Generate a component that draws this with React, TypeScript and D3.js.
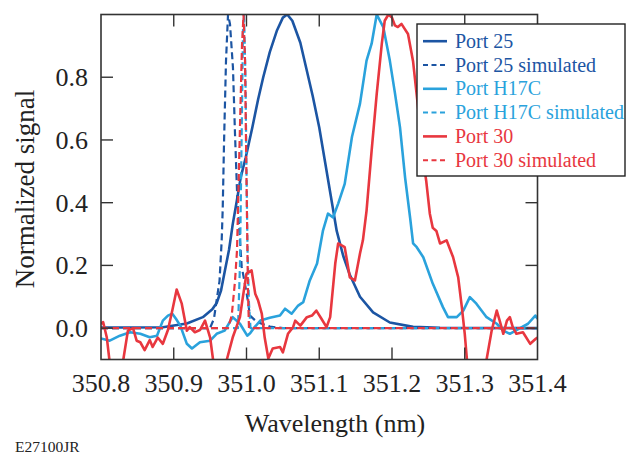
import React from "react";
import * as d3 from "d3";

const xTicks = [350.8, 350.9, 351.0, 351.1, 351.2, 351.3, 351.4];
const yTicks = [0.0, 0.2, 0.4, 0.6, 0.8];

const port25Wl = [350.8, 350.84, 350.885, 350.918, 350.94, 350.953, 350.959, 350.965, 350.97, 350.976, 350.981, 350.987, 350.992, 350.999, 351.008, 351.016, 351.023, 351.032, 351.042, 351.05, 351.056, 351.063, 351.074, 351.082, 351.091, 351.1, 351.108, 351.116, 351.124, 351.133, 351.142, 351.156, 351.174, 351.197, 351.229, 351.266, 351.4];
const port25Val = [0.002, 0.002, 0.003, 0.015, 0.035, 0.06, 0.08, 0.12, 0.18, 0.25, 0.33, 0.41, 0.48, 0.545, 0.64, 0.73, 0.8, 0.88, 0.95, 0.99, 1.0, 0.98, 0.91, 0.83, 0.74, 0.64, 0.53, 0.42, 0.31, 0.23, 0.17, 0.1, 0.05, 0.018, 0.004, 0.001, 0.0];

const port25SimWl = [350.8, 350.94, 350.9498, 350.9553, 350.959, 350.9629, 350.9659, 350.9673, 350.9691, 350.9718, 350.9746, 350.9773, 350.9814, 350.9842, 350.9874, 350.9934, 351.0003, 351.0048, 351.014, 351.0323, 351.05, 351.4];
const port25SimVal = [0, 0, 0.0, 0.03, 0.09, 0.15, 0.28, 0.38, 0.59, 0.85, 1.0, 0.97, 0.83, 0.62, 0.41, 0.196, 0.11, 0.04, 0.02, 0.005, 0, 0];

const h17cWl = [350.8, 350.812, 350.826, 350.84, 350.854, 350.867, 350.877, 350.885, 350.892, 350.898, 350.903, 350.909, 350.918, 350.925, 350.936, 350.95, 350.959, 350.97, 350.981, 350.991, 351.001, 351.005, 351.01, 351.019, 351.032, 351.046, 351.053, 351.062, 351.071, 351.078, 351.087, 351.097, 351.105, 351.112, 351.119, 351.126, 351.135, 351.145, 351.156, 351.165, 351.172, 351.179, 351.188, 351.197, 351.204, 351.211, 351.218, 351.225, 351.229, 351.234, 351.243, 351.256, 351.27, 351.277, 351.289, 351.298, 351.307, 351.316, 351.33, 351.344, 351.353, 351.362, 351.376, 351.387, 351.397, 351.4];
const h17cVal = [-0.033, -0.04, -0.024, -0.013, -0.018, -0.029, -0.024, 0.024, 0.04, 0.046, 0.03, 0.008, -0.05, -0.065, -0.045, -0.04, -0.018, -0.008, 0.035, 0.014, -0.024, -0.016, 0.0, 0.024, 0.033, 0.04, 0.062, 0.046, 0.072, 0.083, 0.152, 0.206, 0.31, 0.365, 0.353, 0.397, 0.46, 0.61, 0.716, 0.853, 0.907, 1.0, 0.96, 0.853, 0.75, 0.64, 0.48, 0.35, 0.27, 0.258, 0.226, 0.142, 0.067, 0.035, 0.035, 0.056, 0.099, 0.078, 0.035, 0.014, -0.008, -0.018, 0.0, 0.014, 0.04, 0.03];

const h17cSimWl = [350.8, 350.985, 350.9883, 350.991, 350.9924, 350.9938, 350.9952, 350.9966, 350.9986, 351.0, 351.0014, 351.0034, 351.0055, 351.4];
const h17cSimVal = [0, 0, 0.0, 0.2, 0.45, 0.7, 0.95, 1.0, 0.8, 0.5, 0.25, 0.08, 0.0, 0];

const port30Wl = [350.8, 350.803, 350.808, 350.812, 350.818, 350.826, 350.83, 350.837, 350.844, 350.849, 350.854, 350.86, 350.867, 350.871, 350.878, 350.885, 350.892, 350.898, 350.904, 350.911, 350.918, 350.922, 350.929, 350.936, 350.943, 350.95, 350.954, 350.958, 350.969, 350.973, 350.981, 350.991, 350.995, 351.0, 351.007, 351.012, 351.016, 351.021, 351.025, 351.03, 351.036, 351.046, 351.05, 351.057, 351.064, 351.067, 351.074, 351.083, 351.09, 351.096, 351.103, 351.11, 351.115, 351.122, 351.126, 351.135, 351.142, 351.149, 351.156, 351.16, 351.165, 351.172, 351.179, 351.186, 351.19, 351.195, 351.2, 351.204, 351.208, 351.213, 351.222, 351.229, 351.236, 351.241, 351.247, 351.252, 351.256, 351.261, 351.266, 351.275, 351.284, 351.291, 351.296, 351.3, 351.303, 351.307, 351.325, 351.33, 351.337, 351.344, 351.348, 351.353, 351.358, 351.362, 351.366, 351.371, 351.38, 351.39, 351.398, 351.4];
const port30Val = [0.014, 0.019, -0.03, -0.11, -0.2, -0.2, -0.11, -0.008, 0.0, -0.04, -0.045, -0.07, -0.038, -0.06, -0.03, -0.05, -0.006, 0.056, 0.123, 0.078, -0.008, 0.003, -0.013, -0.006, 0.024, -0.03, -0.1, -0.18, -0.18, -0.1, -0.03, 0.035, 0.099, 0.174, 0.184, 0.11, 0.088, 0.046, -0.03, -0.097, -0.065, -0.06, -0.077, -0.018, 0.003, 0.024, 0.008, 0.035, 0.04, 0.056, 0.03, 0.003, 0.035, 0.206, 0.27, 0.258, 0.162, 0.152, 0.238, 0.28, 0.374, 0.566, 0.747, 0.907, 0.98, 1.0, 0.99, 0.965, 0.96, 0.97, 0.938, 0.85, 0.7, 0.57, 0.47, 0.365, 0.32, 0.31, 0.27, 0.28, 0.226, 0.162, 0.067, -0.018, -0.1, -0.2, -0.2, -0.1, -0.008, 0.056, 0.024, -0.018, 0.024, 0.035, 0.003, -0.018, -0.013, -0.05, -0.033, -0.03];

const port30SimWl = [350.8, 350.97, 350.9746, 350.9797, 350.9842, 350.987, 350.989, 350.9911, 350.9938, 350.9959, 350.998, 350.9993, 351.0007, 351.002, 351.0034, 351.4];
const port30SimVal = [0, 0, 0, 0.04, 0.15, 0.25, 0.45, 0.65, 0.9, 1.0, 0.85, 0.6, 0.35, 0.12, 0.0, 0];

const DARK = "#1c55a3";
const LIGHT = "#2aa2dc";
const RED = "#e8373f";

const seriesList = [
  { name: "Port 25", wl: port25Wl, val: port25Val, color: DARK, dashed: false },
  { name: "Port 25 simulated", wl: port25SimWl, val: port25SimVal, color: DARK, dashed: true },
  { name: "Port H17C", wl: h17cWl, val: h17cVal, color: LIGHT, dashed: false },
  { name: "Port H17C simulated", wl: h17cSimWl, val: h17cSimVal, color: LIGHT, dashed: true },
  { name: "Port 30", wl: port30Wl, val: port30Val, color: RED, dashed: false },
  { name: "Port 30 simulated", wl: port30SimWl, val: port30SimVal, color: RED, dashed: true },
];

const W = 626;
const H = 455;
const L = 101, R = 537.5, T = 14.5, B = 359.5;
const FONT = '"Liberation Serif", "Times New Roman", Times, "DejaVu Serif", serif';
const AXIS = "#333";
const TS: React.CSSProperties = { fontFamily: FONT };

export default function App() {
  const x = d3.scaleLinear().domain([350.8, 351.4]).range([L, R]);
  const y = d3.scaleLinear().domain([-0.1, 1.0]).range([B, T]);
  const line = d3
    .line<[number, number]>()
    .x((d) => x(d[0]))
    .y((d) => y(d[1]));

  const legX = 417, legY = 24, legW = 208, legH = 152;

  return (
    <svg
      width={W}
      height={H}
      style={{ position: "absolute", left: 0, top: 0, background: "#fff", fontFamily: FONT }}
    >
      <defs>
        <clipPath id="plotclip">
          <rect x={L} y={T} width={R - L} height={B - T} />
        </clipPath>
      </defs>
      <rect x={0} y={0} width={W} height={H} fill="#fff" />
      <g clipPath="url(#plotclip)">
        {seriesList.map((s) => (
          <path
            key={s.name}
            d={line(s.wl.map((w, i) => [w, s.val[i]] as [number, number])) || ""}
            fill="none"
            stroke={s.color}
            strokeWidth={s.dashed ? 2.2 : 2.6}
            strokeDasharray={s.dashed ? "7,4" : undefined}
            strokeLinejoin="round"
          />
        ))}
      </g>
      <rect x={L} y={T} width={R - L} height={B - T} fill="none" stroke={AXIS} strokeWidth={1.6} />
      {xTicks.slice(1, -1).map((t) => (
        <g key={"xt" + t}>
          <line x1={x(t)} x2={x(t)} y1={B} y2={B - 12} stroke={AXIS} strokeWidth={1.4} />
          <line x1={x(t)} x2={x(t)} y1={T} y2={T + 12} stroke={AXIS} strokeWidth={1.4} />
        </g>
      ))}
      {yTicks.map((t) => (
        <g key={"yt" + t}>
          <line x1={L} x2={L + 12} y1={y(t)} y2={y(t)} stroke={AXIS} strokeWidth={1.4} />
          <line x1={R} x2={R - 12} y1={y(t)} y2={y(t)} stroke={AXIS} strokeWidth={1.4} />
        </g>
      ))}
      {xTicks.map((t) => (
        <text key={"xl" + t} x={x(t)} y={392} fontSize={26} textAnchor="middle" fill="#222" style={TS}>
          {t.toFixed(1)}
        </text>
      ))}
      {yTicks.map((t) => (
        <text key={"yl" + t} x={88} y={y(t) + 9} fontSize={26} textAnchor="end" fill="#222" style={TS}>
          {t.toFixed(1)}
        </text>
      ))}
      <text x={335} y={432} fontSize={26} textAnchor="middle" fill="#222" style={TS}>
        Wavelength (nm)
      </text>
      <text
        transform={`translate(34,189) rotate(-90)`}
        fontSize={27}
        textAnchor="middle"
        fill="#222"
        style={TS}
      >
        Normalized signal
      </text>
      <text x={15} y={452} fontSize={15.5} fill="#222" style={TS}>
        E27100JR
      </text>
      <rect x={legX} y={legY} width={legW} height={legH} fill="#fff" stroke="#222" strokeWidth={1.4} />
      {seriesList.map((s, i) => {
        const by = 47.7 + 23.8 * i;
        return (
          <g key={"lg" + s.name}>
            <line
              x1={423}
              x2={447}
              y1={by - 6.5}
              y2={by - 6.5}
              stroke={s.color}
              strokeWidth={s.dashed ? 2 : 2.6}
              strokeDasharray={s.dashed ? "5,3.5" : undefined}
            />
            <text x={455} y={by} fontSize={20} fill={s.color} style={TS}>
              {s.name}
            </text>
          </g>
        );
      })}
    </svg>
  );
}
